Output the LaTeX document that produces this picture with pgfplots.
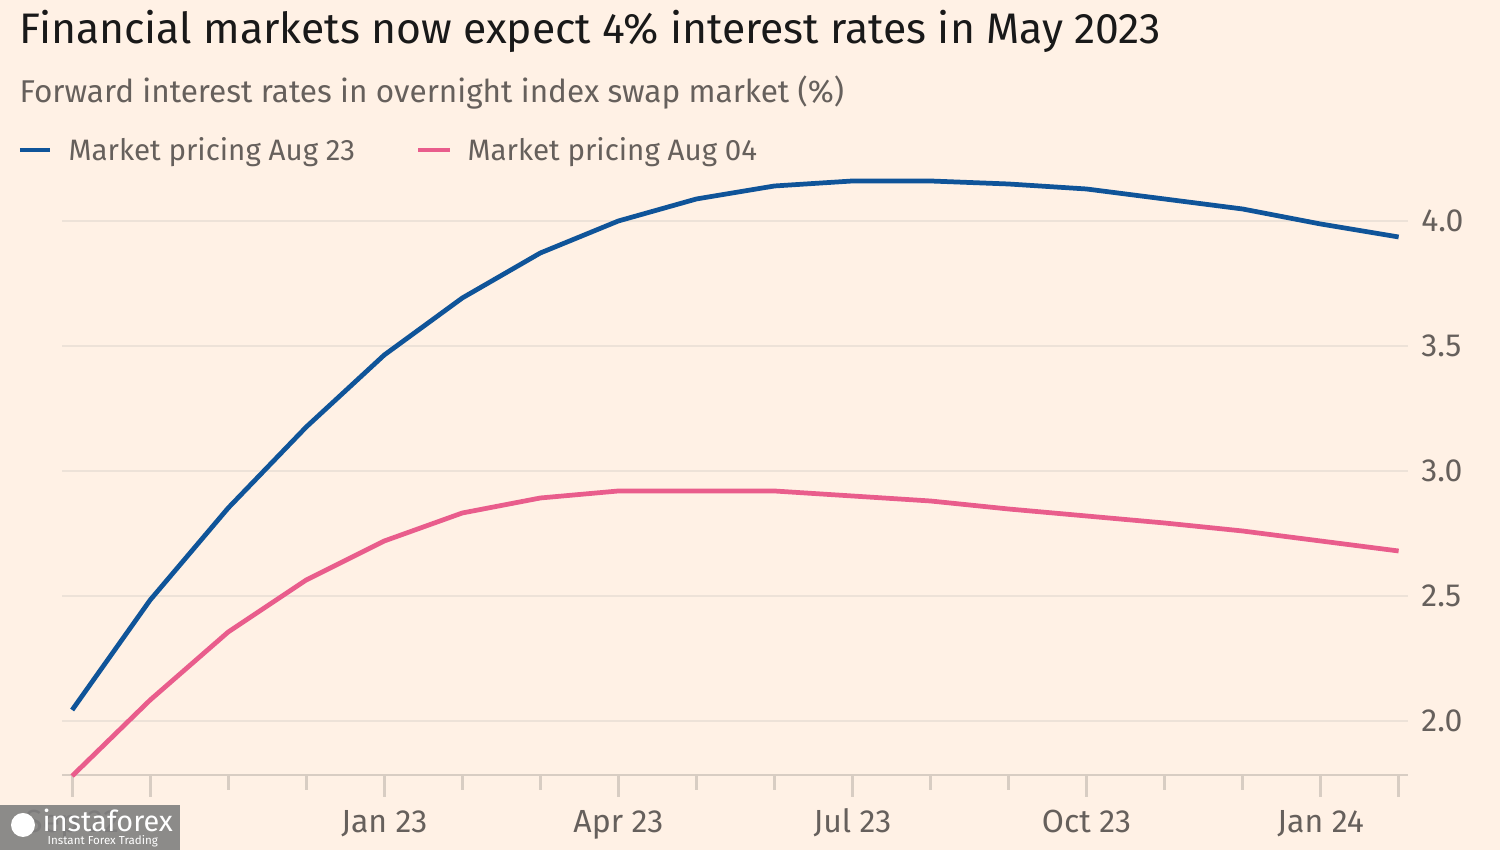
\documentclass[border=0pt]{standalone}
\usepackage{pgfplots}
\pgfplotsset{compat=1.18}
\usepackage{fontspec}
\setmainfont{Fira Sans}
\definecolor{bg}{HTML}{FFF1E5}
\definecolor{ftblue}{HTML}{0F5499}
\definecolor{ftpink}{HTML}{E95D8C}
\definecolor{gridc}{HTML}{EDE2D8}
\definecolor{tickc}{HTML}{D8CDC3}
\definecolor{txtgray}{HTML}{66605C}
\begin{document}
\begin{tikzpicture}
\fill[bg] (0,0) rectangle (15,8.5);
\node[anchor=base west, inner sep=0, font=\fontsize{12.15}{14}\selectfont, text=black!90] at (0.19,8.06) {Financial markets now expect 4\% interest rates in May 2023};
\node[anchor=base west, inner sep=0, font=\fontsize{8.97}{11}\selectfont, text=txtgray] at (0.19,7.47) {Forward interest rates in overnight index swap market (\%)};
\draw[ftblue, line width=1.3pt] (0.2,7.0) -- (0.5,7.0);
\node[anchor=base west, inner sep=0, font=\fontsize{8.4}{10}\selectfont, text=txtgray] at (0.68,6.89) {Market pricing Aug 23};
\draw[ftpink, line width=1.3pt] (4.18,7.0) -- (4.5,7.0);
\node[anchor=base west, inner sep=0, font=\fontsize{8.4}{10}\selectfont, text=txtgray] at (4.67,6.89) {Market pricing Aug 04};
\begin{axis}[
  at={(0.62cm,0.75cm)}, anchor=south west,
  scale only axis, width=13.46cm, height=6.04cm,
  xmin=-0.13, xmax=17.12, ymin=1.784, ymax=4.2,
  axis x line*=bottom, axis y line*=right,
  y axis line style={draw=none},
  x axis line style={draw=tickc, line width=0.8pt, -},
  xtick={0,1,4,7,10,13,16,17},
  xticklabels={Sep 22,,Jan 23,Apr 23,Jul 23,Oct 23,Jan 24,},
  minor xtick={2,3,5,6,8,9,11,12,14,15},
  major tick length=0.22cm, minor tick length=0.15cm,
  tick align=outside,
  xtick style={draw=tickc, line width=0.8pt},
  minor tick style={draw=tickc, line width=0.8pt},
  ytick={2.0,2.5,3.0,3.5,4.0},
  ytick style={draw=none},
  ymajorgrids, grid style={draw=gridc, line width=0.6pt},
  yticklabel pos=right,
  yticklabel style={anchor=west, xshift=-0.21cm, text=txtgray, font=\fontsize{9.1}{11}\selectfont, /pgf/number format/.cd, fixed, fixed zerofill, precision=1, assume math mode=true},
  xticklabel style={text=txtgray, font=\fontsize{9.1}{11}\selectfont, text height=1.75ex, text depth=0.45ex, yshift=0.09cm},
  clip=false,
]
\addplot[ftblue, line width=1.35pt, line join=round] coordinates {
(0,2.044) (1,2.484) (2,2.852) (3,3.176) (4,3.464) (5,3.692) (6,3.872) (7,4.0) (8,4.088) (9,4.14) (10,4.16) (11,4.16) (12,4.148) (13,4.128) (14,4.088) (15,4.048) (16,3.988) (17,3.936)
};
\addplot[ftpink, line width=1.35pt, line join=round] coordinates {
(0,1.78) (1,2.084) (2,2.356) (3,2.564) (4,2.72) (5,2.832) (6,2.892) (7,2.92) (8,2.92) (9,2.92) (10,2.90) (11,2.88) (12,2.848) (13,2.82) (14,2.792) (15,2.76) (16,2.72) (17,2.68)
};
\end{axis}
\fill[black!50, opacity=0.9] (0,0) rectangle (1.8,0.45);
\node[anchor=base west, inner sep=0, text=white, font=\fontsize{8.2}{9}\selectfont] at (0.42,0.18) {instaforex};
\node[anchor=base west, inner sep=0, text=white, font=\fontsize{3.3}{4}\selectfont] at (0.47,0.05) {Instant Forex Trading};
\fill[white] (0.23,0.25) circle (0.12);
\end{tikzpicture}
\end{document}
